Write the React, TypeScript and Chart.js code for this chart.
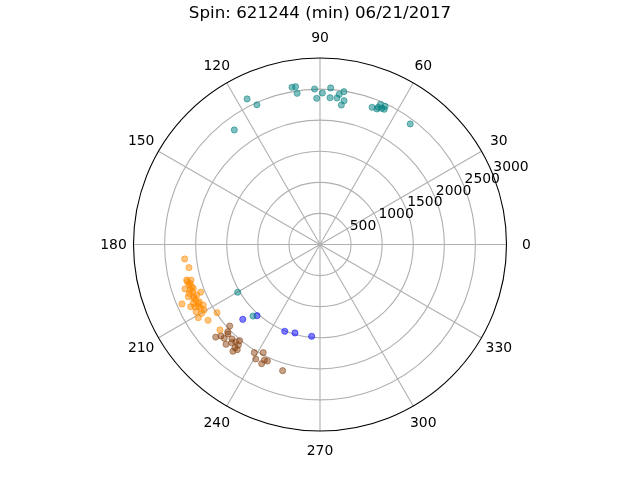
import React, { useEffect, useRef } from "react";
import { Chart, registerables } from "chart.js";

Chart.register(...registerables);

const TITLE = "Spin: 621244 (min) 06/21/2017";
const R_MAX = 3000;
const R_TICKS = [500, 1000, 1500, 2000, 2500, 3000];
const THETA_TICKS = [0, 30, 60, 90, 120, 150, 180, 210, 240, 270, 300, 330];

// teal series (degrees, radius)
const tealTheta = [116.6, 114.3, 126.8, 100.1, 98.8, 98.6, 92.0, 91.3, 89.1, 86.1, 86.1, 83.4, 82.7, 81.1, 80.5, 81.3, 69.2, 67.2, 67.0, 66.7, 64.6, 64.8, 65.6, 53.2, 210.1, 226.9];
const tealR = [2619, 2466, 2301, 2569, 2569, 2460, 2503, 2352, 2437, 2524, 2367, 2372, 2436, 2488, 2345, 2270, 2360, 2365, 2398, 2455, 2408, 2457, 2405, 2422, 1531, 1576];

// blue series
const blueTheta = [224.1, 228.5, 247.9, 254.2, 264.8];
const blueR = [1730, 1529, 1507, 1479, 1483];

// orange series
const orangeTheta = [186.1, 190.0, 195.4, 195.7, 197.2, 198.2, 199.3, 200.3, 201.8, 201.6, 202.5, 204.1, 204.9, 205.8, 207.4, 203.3, 205.7, 208.1, 208.5, 211.0, 214.1, 213.5, 220.5, 196.6, 198.2, 202.3, 205.4, 206.5, 209.5, 194.9, 200.5, 210.2, 199.1, 203.0, 206.9];
const orangeR = [2189, 2140, 2152, 2217, 2205, 2286, 2215, 2184, 2067, 2279, 2194, 2190, 2247, 2174, 2115, 2418, 2308, 2176, 2268, 2284, 2175, 1987, 2117, 2183, 2172, 2143, 2149, 2246, 2143, 2219, 2244, 2202, 2156, 2210, 2195];

// brown series
const brownTheta = [222.1, 223.4, 221.6, 222.7, 224.4, 226.7, 228.0, 229.1, 230.1, 230.9, 231.8, 230.8, 230.5, 238.7, 242.3, 240.7, 244.3, 243.9, 245.7, 253.5, 224.2, 227.0];
const brownR = [1957, 2043, 2243, 2169, 2156, 2205, 2125, 2070, 2016, 2083, 2153, 2216, 2151, 2036, 1965, 2112, 2063, 2134, 2057, 2117, 2065, 2077];

const toXY = (theta: number[], r: number[]) =>
  theta.map((t, i) => ({
    x: r[i] * Math.cos((t * Math.PI) / 180),
    y: r[i] * Math.sin((t * Math.PI) / 180),
  }));

const FONT = "'DejaVu Sans', sans-serif";

const polarGrid = {
  id: "polarGrid",
  beforeDatasetsDraw(chart: any) {
    const ctx = chart.ctx as CanvasRenderingContext2D;
    const xs = chart.scales.x;
    const ys = chart.scales.y;
    const cx = xs.getPixelForValue(0);
    const cy = ys.getPixelForValue(0);
    const rad = (v: number) => xs.getPixelForValue(v) - cx;
    const R = rad(R_MAX);
    ctx.save();
    ctx.strokeStyle = "#b0b0b0";
    ctx.lineWidth = 1.1;
    R_TICKS.forEach((v) => {
      if (v >= R_MAX) return;
      ctx.beginPath();
      ctx.arc(cx, cy, rad(v), 0, Math.PI * 2);
      ctx.stroke();
    });
    THETA_TICKS.forEach((t) => {
      const a = (t * Math.PI) / 180;
      ctx.beginPath();
      ctx.moveTo(cx, cy);
      ctx.lineTo(cx + R * Math.cos(a), cy - R * Math.sin(a));
      ctx.stroke();
    });
    ctx.strokeStyle = "#000";
    ctx.lineWidth = 1.1;
    ctx.beginPath();
    ctx.arc(cx, cy, R, 0, Math.PI * 2);
    ctx.stroke();
    ctx.restore();
  },
  afterDatasetsDraw(chart: any) {
    const ctx = chart.ctx as CanvasRenderingContext2D;
    const xs = chart.scales.x;
    const ys = chart.scales.y;
    const cx = xs.getPixelForValue(0);
    const cy = ys.getPixelForValue(0);
    const rad = (v: number) => xs.getPixelForValue(v) - cx;
    const R = rad(R_MAX);
    ctx.save();
    ctx.fillStyle = "#000";
    ctx.font = `13.9px ${FONT}`;
    ctx.textAlign = "center";
    ctx.textBaseline = "middle";
    THETA_TICKS.forEach((t) => {
      const a = (t * Math.PI) / 180;
      const d = R + 20;
      ctx.fillText(String(t), cx + d * Math.cos(a), cy - d * Math.sin(a) + 0.5);
    });
    const la = (22.5 * Math.PI) / 180;
    ctx.textAlign = "left";
    ctx.textBaseline = "bottom";
    R_TICKS.forEach((v) => {
      const r = rad(v);
      ctx.fillText(String(v), cx + r * Math.cos(la) + 1, cy - r * Math.sin(la) + 1);
    });
    ctx.restore();
  },
};

const mk = (label: string, data: any[], rgb: string) => ({
  label,
  data,
  backgroundColor: `rgba(${rgb},0.5)`,
  borderColor: `rgba(${rgb},0.5)`,
  borderWidth: 1,
  pointRadius: 3.1,
  pointHoverRadius: 3.1,
});

export default function App() {
  const ref = useRef<HTMLCanvasElement | null>(null);
  useEffect(() => {
    document.body.style.margin = "0";
    const canvas = ref.current!;
    const chart = new Chart(canvas, {
      type: "scatter",
      data: {
        datasets: [
          mk("orange", toXY(orangeTheta, orangeR), "255,140,0"),
          mk("brown", toXY(brownTheta, brownR), "139,69,19"),
          mk("teal", toXY(tealTheta, tealR), "0,128,128"),
          mk("blue", toXY(blueTheta, blueR), "0,0,255"),
        ],
      },
      options: {
        responsive: false,
        animation: false,
        events: [],
        layout: { padding: { left: 133.5, right: 133.5, top: 0, bottom: 49 } },
        scales: {
          x: { type: "linear", min: -R_MAX, max: R_MAX, display: false },
          y: { type: "linear", min: -R_MAX, max: R_MAX, display: false },
        },
        plugins: {
          legend: { display: false },
          tooltip: { enabled: false },
          title: {
            display: true,
            text: TITLE,
            color: "#000",
            font: { family: FONT, size: 16.7, weight: "normal" },
            padding: { top: 3.5, bottom: 58 - 3.5 - 16.7 * 1.2 },
          },
        },
      },
      plugins: [polarGrid],
    });
    return () => chart.destroy();
  }, []);
  return (
    <div style={{ width: 640, height: 480 }}>
      <canvas ref={ref} width={640} height={480} style={{ width: 640, height: 480, display: "block" }} />
    </div>
  );
}
